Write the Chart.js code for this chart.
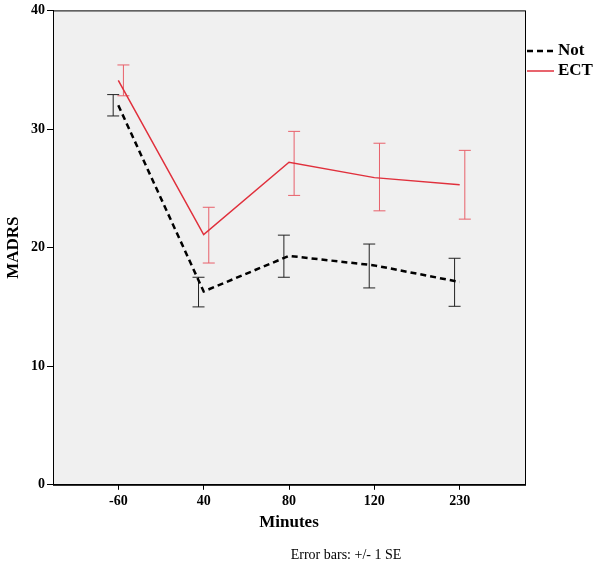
<!DOCTYPE html>
<html>
<head>
<meta charset="utf-8">
<script src="https://cdn.jsdelivr.net/npm/chart.js@4"></script>
<style>
    body { margin: 0; background: #fff; }
</style>
</head>
<body>
<canvas id="madrsChart" width="600" height="571"></canvas>
<script>
// Minutes relative to ECT
const minutes = ['-60', '40', '80', '120', '230'];

// Not group: mean and +/- 1 SE
const notMean = [32.0, 16.3, 19.3, 18.5, 17.1];
const notLow = [31.1, 15.0, 17.5, 16.6, 15.05];
const notHigh = [32.9, 17.5, 21.05, 20.3, 19.1];

// ECT group: mean and +/- 1 SE
const ectMean = [34.1, 21.1, 27.2, 25.9, 25.3];
const ectLow = [32.8, 18.7, 24.4, 23.1, 22.4];
const ectHigh = [35.4, 23.4, 29.8, 28.8, 28.2];

const yTicks = [0, 10, 20, 30, 40];

const SERIF = '"Liberation Serif", "Times New Roman", serif';

function meanPoints(values) {
    return values.map((v, i) => ({ x: i, y: v }));
}

// error bars are dodged a little to each side of the category
function errorPoints(low, high, dodge) {
    const pts = [];
    low.forEach((lo, i) => {
        pts.push({ x: i + dodge, y: lo });
        pts.push({ x: i + dodge, y: high[i] });
        pts.push({ x: i + dodge, y: null });
    });
    return pts;
}

function errorDataset(label, low, high, dodge, color) {
    return {
        label: label,
        data: errorPoints(low, high, dodge),
        borderColor: color,
        borderWidth: 1,
        pointStyle: 'line',
        pointRadius: 6,
        pointBorderColor: color,
        pointBorderWidth: 1,
        spanGaps: false
    };
}

const plotBox = {
    id: 'plotBox',
    beforeDraw(chart) {
        const { ctx, chartArea: a } = chart;
        ctx.save();
        ctx.fillStyle = '#f0f0f0';
        ctx.fillRect(a.left, a.top, a.right - a.left, a.bottom - a.top);
        ctx.restore();
    },
    afterDraw(chart) {
        const { ctx, chartArea: a } = chart;
        ctx.save();
        ctx.strokeStyle = '#000';
        ctx.lineWidth = 1;
        ctx.strokeRect(a.left + 0.5, a.top + 0.5, a.right - a.left, a.bottom - a.top);

        // legend
        const items = [
            { text: 'Not', color: '#000', width: 2.5, dash: [6, 4], y: 51 },
            { text: 'ECT', color: '#e0303c', width: 1.5, dash: [], y: 71 }
        ];
        ctx.font = 'bold 17px ' + SERIF;
        ctx.textBaseline = 'middle';
        items.forEach(item => {
            ctx.beginPath();
            ctx.setLineDash(item.dash);
            ctx.strokeStyle = item.color;
            ctx.lineWidth = item.width;
            ctx.moveTo(527, item.y);
            ctx.lineTo(554, item.y);
            ctx.stroke();
            ctx.setLineDash([]);
            ctx.fillStyle = '#000';
            ctx.fillText(item.text, 558, item.y);
        });

        // footnote
        ctx.font = '14px ' + SERIF;
        ctx.textAlign = 'center';
        ctx.fillText('Error bars: +/- 1 SE', 346, 555);
        ctx.restore();
    }
};

const chart = new Chart(document.getElementById('madrsChart'), {
    type: 'line',
    data: {
        datasets: [
            {
                label: 'Not',
                data: meanPoints(notMean),
                borderColor: '#000',
                borderWidth: 2.5,
                borderDash: [6, 4],
                pointRadius: 0
            },
            {
                label: 'ECT',
                data: meanPoints(ectMean),
                borderColor: '#e0303c',
                borderWidth: 1.5,
                pointRadius: 0
            },
            errorDataset('Not SE', notLow, notHigh, -0.06, '#222'),
            errorDataset('ECT SE', ectLow, ectHigh, 0.06, '#e8606a')
        ]
    },
    options: {
        responsive: false,
        animation: false,
        devicePixelRatio: 1,
        layout: { padding: { top: 10, right: 75, bottom: 38, left: 0 } },
        plugins: {
            legend: { display: false },
            tooltip: { enabled: false }
        },
        scales: {
            x: {
                type: 'linear',
                min: -0.765,
                max: 4.765,
                afterBuildTicks: scale => {
                    scale.ticks = minutes.map((m, i) => ({ value: i }));
                },
                ticks: {
                    callback: value => minutes[value],
                    color: '#000',
                    padding: 3,
                    maxRotation: 0,
                    font: { family: SERIF, size: 14, weight: 'bold' }
                },
                grid: {
                    drawOnChartArea: false,
                    drawTicks: true,
                    tickLength: 5,
                    color: '#000'
                },
                border: { display: true, color: '#000' },
                title: {
                    display: true,
                    text: 'Minutes',
                    color: '#000',
                    padding: { top: 0, bottom: 0 },
                    font: { family: SERIF, size: 17, weight: 'bold' }
                }
            },
            y: {
                min: 0,
                max: 40,
                afterBuildTicks: scale => {
                    scale.ticks = yTicks.map(v => ({ value: v }));
                },
                afterFit: scale => { scale.width = 53; },
                ticks: {
                    color: '#000',
                    padding: 2,
                    font: { family: SERIF, size: 14, weight: 'bold' }
                },
                grid: {
                    drawOnChartArea: false,
                    drawTicks: true,
                    tickLength: 6,
                    color: '#000'
                },
                border: { display: true, color: '#000' },
                title: {
                    display: true,
                    text: 'MADRS',
                    color: '#000',
                    padding: { top: 3, bottom: 0 },
                    font: { family: SERIF, size: 17, weight: 'bold' }
                }
            }
        }
    },
    plugins: [plotBox]
});
</script>
</body>
</html>
